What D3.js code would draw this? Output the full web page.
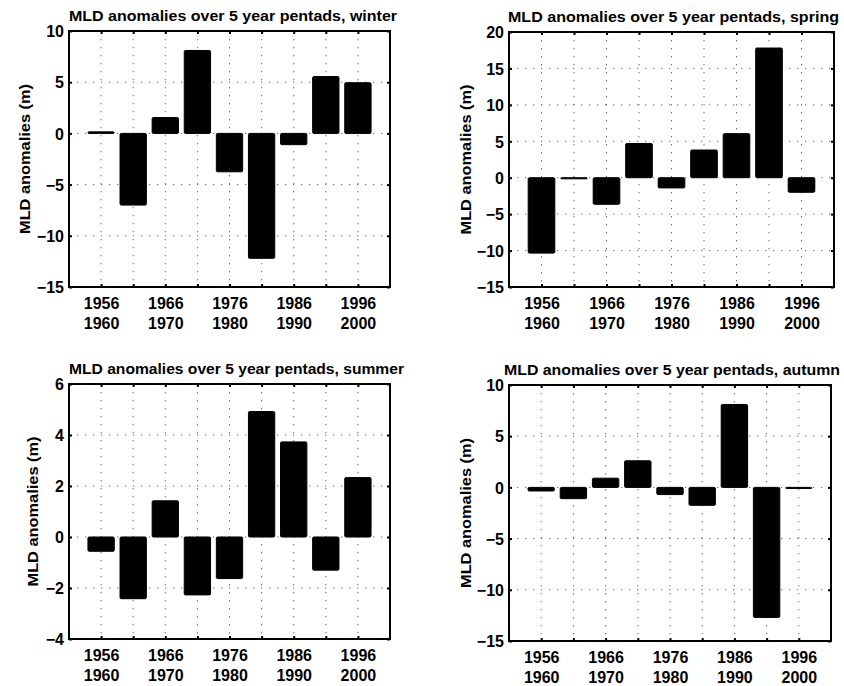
<!DOCTYPE html>
<html>
<head>
<meta charset="utf-8">
<script src="https://cdn.jsdelivr.net/npm/d3@7"></script>
<style>
  body { margin: 0; background: #fff; }
  svg { display: block; }
  text { font-family: "Liberation Sans", Arial, Helvetica, sans-serif; font-weight: bold; fill: #000; }
</style>
</head>
<body>
<svg id="chart" width="844" height="686"></svg>
<script>
// Five-year pentads (start and end year of each bar)
const pentadStart = [1956, 1961, 1966, 1971, 1976, 1981, 1986, 1991, 1996];
const pentadEnd   = [1960, 1965, 1970, 1975, 1980, 1985, 1990, 1995, 2000];
// Pentads that carry a two-line year label under the axis
const labelledPentads = [1956, 1966, 1976, 1986, 1996];

// Mixed-layer-depth anomalies (m) per pentad, one array per season
const winterValues = [0.15, -7.0, 1.55, 8.1, -3.75, -12.2, -1.1, 5.55, 4.95];
const springValues = [-10.35, -0.15, -3.65, 4.7, -1.4, 3.8, 6.05, 17.8, -2.0];
const summerValues = [-0.56, -2.42, 1.42, -2.27, -1.63, 4.92, 3.73, -1.3, 2.33];
const autumnValues = [-0.35, -1.1, 0.9, 2.6, -0.7, -1.75, 8.1, -12.7, -0.1];

// y-axis tick values per season
const winterTicks = [-15, -10, -5, 0, 5, 10];
const springTicks = [-15, -10, -5, 0, 5, 10, 15, 20];
const summerTicks = [-4, -2, 0, 2, 4, 6];
const autumnTicks = [-15, -10, -5, 0, 5, 10];

const seasons = ["winter", "spring", "summer", "autumn"];
const titlePrefix = "MLD anomalies over 5 year pentads, ";
const yLabel = "MLD anomalies (m)";

// Panel geometry (plot box in page pixels) and label placement
const layout = [
  { left: 69,  top: 31,  right: 390, bottom: 287, titleStart: 69,  titleWidth: 328, yLabelGap: 39 },
  { left: 509, top: 32,  right: 834, bottom: 287, titleStart: 508, titleWidth: 331, yLabelGap: 38.5 },
  { left: 69,  top: 384, right: 390, bottom: 639, titleStart: 69,  titleWidth: 335, yLabelGap: 31 },
  { left: 509, top: 385, right: 831, bottom: 641, titleStart: 504, titleWidth: 336, yLabelGap: 38.5 }
];

const seasonValues = [winterValues, springValues, summerValues, autumnValues];
const seasonTicks = [winterTicks, springTicks, summerTicks, autumnTicks];

const svg = d3.select("#chart");
const barWidth = 0.82;

seasons.forEach((season, k) => {
  const box = layout[k];
  const values = seasonValues[k];
  const ticks = seasonTicks[k];

  const x = d3.scaleLinear().domain([0, pentadStart.length + 1]).range([box.left, box.right]);
  const y = d3.scaleLinear().domain([d3.min(ticks), d3.max(ticks)]).range([box.bottom, box.top]);
  const positions = pentadStart.map((d, i) => i + 1);

  const g = svg.append("g");

  // dotted grid
  g.append("g").selectAll("line.vgrid").data(positions).join("line")
    .attr("x1", d => x(d)).attr("x2", d => x(d))
    .attr("y1", box.top).attr("y2", box.bottom)
    .attr("stroke", "#666").attr("stroke-width", 1).attr("stroke-dasharray", "1.3,6.7");
  g.append("g").selectAll("line.hgrid").data(ticks.slice(1, -1)).join("line")
    .attr("x1", box.left).attr("x2", box.right)
    .attr("y1", d => y(d)).attr("y2", d => y(d))
    .attr("stroke", "#666").attr("stroke-width", 1).attr("stroke-dasharray", "1.3,6.7");

  // bars
  g.append("g").selectAll("rect").data(values).join("rect")
    .attr("x", (d, i) => x(positions[i] - barWidth / 2))
    .attr("width", (d, i) => x(positions[i] + barWidth / 2) - x(positions[i] - barWidth / 2))
    .attr("y", d => y(Math.max(0, d)))
    .attr("height", d => Math.abs(y(d) - y(0)))
    .attr("fill", "#000").attr("stroke", "#000").attr("stroke-width", 1)
    .attr("rx", 1.2);

  // axes: labelled bottom/left, tick-only top/right (all ticks inward)
  const bottom = g.append("g").attr("transform", `translate(0,${box.bottom})`)
    .call(d3.axisBottom(x).tickValues(positions).tickSize(-3).tickPadding(0).tickFormat(""));
  bottom.selectAll(".tick").each(function (d) {
    const i = d - 1;
    if (!labelledPentads.includes(pentadStart[i])) return;
    const t = d3.select(this).append("text")
      .attr("text-anchor", "middle").style("font-size", "16px");
    t.append("tspan").attr("x", 0).attr("y", 21.5).text(pentadStart[i]);
    t.append("tspan").attr("x", 0).attr("y", 41.5).text(pentadEnd[i]);
  });
  g.append("g").attr("transform", `translate(0,${box.top})`)
    .call(d3.axisTop(x).tickValues(positions).tickSize(-3).tickFormat(""));

  const left = g.append("g").attr("transform", `translate(${box.left},0)`)
    .call(d3.axisLeft(y).tickValues(ticks).tickSize(-3).tickPadding(5));
  left.selectAll("text").style("font-size", "16px").attr("dy", "0.36em");
  g.append("g").attr("transform", `translate(${box.right},0)`)
    .call(d3.axisRight(y).tickValues(ticks).tickSize(-3).tickFormat(""));

  g.selectAll(".domain").remove();
  g.selectAll(".tick line").attr("stroke", "#000").attr("stroke-width", 2);

  // frame
  g.append("rect")
    .attr("x", box.left).attr("y", box.top)
    .attr("width", box.right - box.left).attr("height", box.bottom - box.top)
    .attr("fill", "none").attr("stroke", "#000").attr("stroke-width", 2);

  // title
  g.append("text")
    .attr("x", box.titleStart).attr("y", box.top - 10)
    .attr("text-anchor", "start")
    .attr("textLength", box.titleWidth).attr("lengthAdjust", "spacingAndGlyphs")
    .style("font-size", "15.5px")
    .text(titlePrefix + season);

  // y-axis label
  const cy = (box.top + box.bottom) / 2;
  const lx = box.left - box.yLabelGap;
  g.append("text")
    .attr("transform", `translate(${lx},${cy}) rotate(-90)`)
    .attr("text-anchor", "middle")
    .attr("textLength", 150).attr("lengthAdjust", "spacingAndGlyphs")
    .style("font-size", "15.5px")
    .text(yLabel);
});
</script>
</body>
</html>
